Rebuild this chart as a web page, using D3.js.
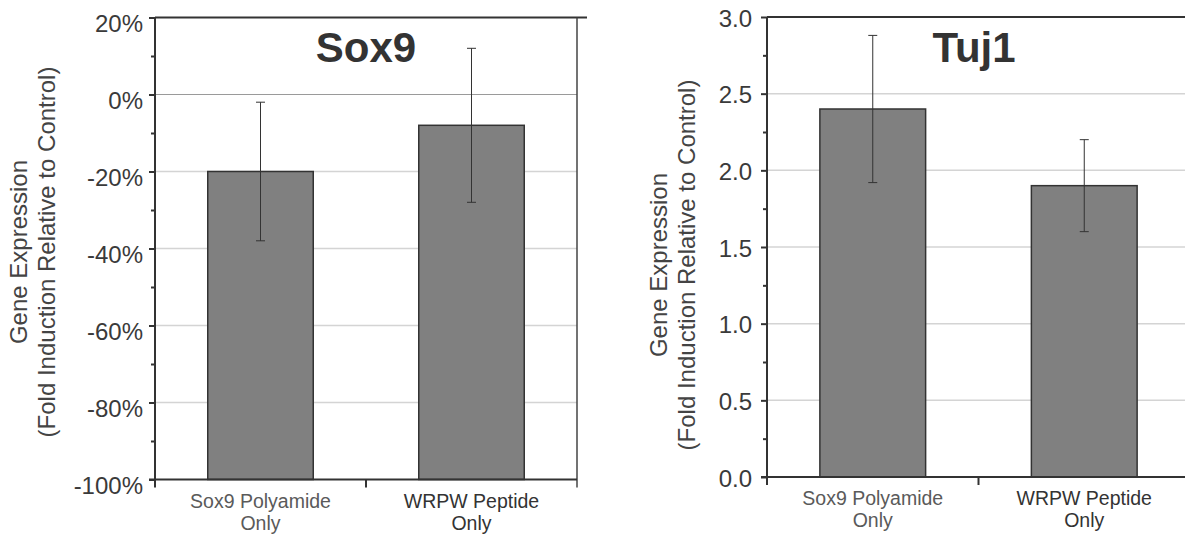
<!DOCTYPE html>
<html lang="en">
<head>
<meta charset="UTF-8">
<script src="https://d3js.org/d3.v7.min.js"></script>
<title>Sox9 and Tuj1 gene expression</title>
<style>
    body { margin: 0; background: white; }
    text { font-family: "Liberation Sans", Arial, sans-serif; }
    .tick text { fill: #3a3a3a; }
</style>
</head>
<body>
<div id="chart"></div>
<script>
// categories, two lines each
const categories = ["Sox9 Polyamide", "WRPW Peptide"];
const categoryLine2 = ["Only", "Only"];

// Sox9 panel (percent change)
const sox9Values = [-20, -8];
const sox9ErrLow = [-38, -28];
const sox9ErrHigh = [-2, 12];
const sox9Ticks = [-100, -80, -60, -40, -20, 0, 20];
const sox9MinorTicks = [-90, -70, -50, -30, -10, 10];

// Tuj1 panel (fold induction)
const tuj1Values = [2.4, 1.9];
const tuj1ErrLow = [1.92, 1.6];
const tuj1ErrHigh = [2.88, 2.2];
const tuj1Ticks = [0, 0.5, 1.0, 1.5, 2.0, 2.5, 3.0];
const tuj1MinorTicks = [0.25, 0.75, 1.25, 1.75, 2.25, 2.75];

const yLabel1 = "Gene Expression";
const yLabel2 = "(Fold Induction Relative to Control)";

const svg = d3.select("#chart").append("svg")
    .attr("width", 1185)
    .attr("height", 535);

const catColors = ["#5a5a5a", "#333"];

const drawPanel = (p) => {
    const g = svg.append("g");

    const x = d3.scaleBand()
        .domain(categories)
        .range([p.left, p.right])
        .paddingInner(0.5)
        .paddingOuter(0.25);

    const y = d3.scaleLinear()
        .domain(p.domain)
        .range([p.bottom, p.top]);

    // grid lines
    g.selectAll(".grid")
        .data(p.ticks.filter(t => t !== p.domain[0] && t !== p.domain[1]))
        .enter().append("line")
        .attr("x1", p.left).attr("x2", p.right)
        .attr("y1", d => y(d)).attr("y2", d => y(d))
        .attr("stroke", d => d === p.zeroLine ? "#9a9a9a" : "#d4d4d4")
        .attr("stroke-width", d => d === p.zeroLine ? 1 : 1.5);

    // frame top + right
    g.append("line")
        .attr("x1", p.left).attr("x2", p.right + 10)
        .attr("y1", p.top).attr("y2", p.top)
        .attr("stroke", "#333").attr("stroke-width", 2);
    g.append("line")
        .attr("x1", p.right).attr("x2", p.right)
        .attr("y1", p.top).attr("y2", p.bottom + 8)
        .attr("stroke", "#444").attr("stroke-width", 1.5);

    // bars
    g.selectAll(".bar")
        .data(p.values)
        .enter().append("rect")
        .attr("x", (d, i) => x(categories[i]))
        .attr("width", x.bandwidth())
        .attr("y", d => y(d))
        .attr("height", d => p.bottom - y(d))
        .attr("fill", "#808080")
        .attr("stroke", "#333")
        .attr("stroke-width", 1.5);

    // error bars
    const cx = i => x(categories[i]) + x.bandwidth() / 2;
    const err = g.selectAll(".err")
        .data(p.values.map((v, i) => ({ i, lo: p.errLow[i], hi: p.errHigh[i] })))
        .enter().append("g");
    err.append("line")
        .attr("x1", d => cx(d.i)).attr("x2", d => cx(d.i))
        .attr("y1", d => y(d.lo)).attr("y2", d => y(d.hi))
        .attr("stroke", "#333").attr("stroke-width", 1);
    ["lo", "hi"].forEach(k => {
        err.append("line")
            .attr("x1", d => cx(d.i) - 4.5).attr("x2", d => cx(d.i) + 4.5)
            .attr("y1", d => y(d[k])).attr("y2", d => y(d[k]))
            .attr("stroke", "#333").attr("stroke-width", 1);
    });

    // y axis
    const yAxis = g.append("g")
        .attr("transform", `translate(${p.left},0)`)
        .call(d3.axisLeft(y).tickValues(p.ticks).tickSize(6).tickSizeOuter(0)
            .tickPadding(p.tickPad).tickFormat(p.format));
    yAxis.select(".domain").remove();
    yAxis.selectAll(".tick line").attr("stroke", "#333").attr("stroke-width", 2);
    yAxis.selectAll(".tick text")
        .attr("font-size", 24)
        .attr("dy", p.labelDy);

    const yMinor = g.append("g")
        .attr("transform", `translate(${p.left},0)`)
        .call(d3.axisLeft(y).tickValues(p.minorTicks).tickSize(4).tickFormat(""));
    yMinor.select(".domain").remove();
    yMinor.selectAll(".tick line").attr("stroke", "#333").attr("stroke-width", 2);

    g.append("line")
        .attr("x1", p.left).attr("x2", p.left)
        .attr("y1", p.top).attr("y2", p.bottom + 8)
        .attr("stroke", "#333").attr("stroke-width", 2);

    // x axis line and boundary ticks
    g.append("line")
        .attr("x1", p.left - 6).attr("x2", p.right)
        .attr("y1", p.bottom).attr("y2", p.bottom)
        .attr("stroke", "#333").attr("stroke-width", 2);
    const mid = x(categories[1]) - x.step() * x.paddingInner() / 2;
    g.append("line")
        .attr("x1", mid).attr("x2", mid)
        .attr("y1", p.bottom).attr("y2", p.bottom + 8)
        .attr("stroke", "#333").attr("stroke-width", 2);

    // category labels
    const catG = g.selectAll(".cat")
        .data(categories)
        .enter().append("text")
        .attr("text-anchor", "middle")
        .attr("font-size", 19.5)
        .attr("fill", (d, i) => catColors[i])
        .attr("x", d => x(d) + x.bandwidth() / 2)
        .attr("y", p.bottom + 28);
    catG.append("tspan").text(d => d);
    catG.append("tspan")
        .attr("x", d => x(d) + x.bandwidth() / 2)
        .attr("dy", 22)
        .text((d, i) => categoryLine2[i]);

    // title
    g.append("text")
        .attr("x", p.titleX)
        .attr("y", 62)
        .attr("text-anchor", "middle")
        .attr("font-size", 42)
        .attr("font-weight", "bold")
        .attr("fill", "#333")
        .text(p.title);

    // y label
    const yl = g.append("text")
        .attr("transform", `translate(${p.yLabelX},${p.yLabelY}) rotate(-90)`)
        .attr("text-anchor", "middle")
        .attr("font-size", 24)
        .attr("fill", "#444");
    yl.append("tspan").attr("x", 0).attr("y", 0).text(yLabel1);
    yl.append("tspan").attr("x", 0).attr("y", 28).text(yLabel2);
};

drawPanel({
    left: 155, right: 577, top: 17.5, bottom: 479.5,
    domain: [-100, 20],
    ticks: sox9Ticks, minorTicks: sox9MinorTicks,
    values: sox9Values, errLow: sox9ErrLow, errHigh: sox9ErrHigh,
    format: d => d + "%",
    zeroLine: 0,
    tickPad: 6, labelDy: "0.6em",
    title: "Sox9", titleX: 366,
    yLabelX: 27, yLabelY: 252
});

drawPanel({
    left: 767, right: 1190, top: 17, bottom: 477,
    domain: [0, 3],
    ticks: tuj1Ticks, minorTicks: tuj1MinorTicks,
    values: tuj1Values, errLow: tuj1ErrLow, errHigh: tuj1ErrHigh,
    format: d3.format(".1f"),
    zeroLine: null,
    tickPad: 9, labelDy: "0.38em",
    title: "Tuj1", titleX: 974,
    yLabelX: 667, yLabelY: 265
});
</script>
</body>
</html>
